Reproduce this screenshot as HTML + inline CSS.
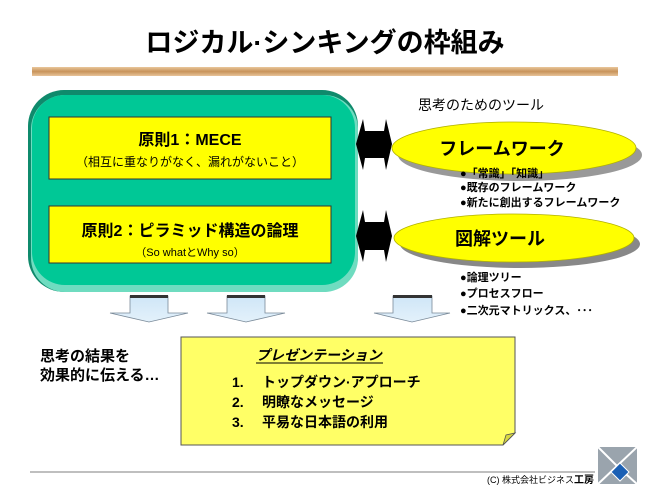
<!DOCTYPE html>
<html><head><meta charset="utf-8"><style>
html,body{margin:0;padding:0;background:#fff;}
svg text{font-family:"Liberation Sans","Noto Sans CJK JP",sans-serif;}
</style></head><body>
<svg width="650" height="488" viewBox="0 0 650 488" xmlns="http://www.w3.org/2000/svg">
<defs>
<linearGradient id="bar" x1="0" y1="0" x2="0" y2="1">
<stop offset="0" stop-color="#e9c79b"/><stop offset="0.5" stop-color="#c8935a"/><stop offset="1" stop-color="#e8c49a"/>
</linearGradient>
<linearGradient id="arr" x1="0" y1="0" x2="0" y2="1">
<stop offset="0" stop-color="#cfe6f7"/><stop offset="1" stop-color="#e3f1fb"/>
</linearGradient>
</defs>
<text x="325" y="52" font-size="27" font-weight="bold" text-anchor="middle" fill="#000">ロジカル·シンキングの枠組み</text>
<rect x="32" y="67" width="586" height="9" fill="url(#bar)"/>

<!-- green box -->
<rect x="28" y="90" width="330" height="202" rx="36" fill="#0f8a6c"/>
<rect x="31" y="95" width="327" height="197" rx="34" fill="#6fdcc0"/>
<rect x="32" y="95" width="323" height="190" rx="33" fill="#00c896"/>
<rect x="49" y="117" width="282" height="62" fill="#ffff00" stroke="#333" stroke-width="1"/>
<text x="190" y="145" font-size="16" font-weight="bold" text-anchor="middle">原則1：MECE</text>
<text x="190" y="166" font-size="12" text-anchor="middle">（相互に重なりがなく、漏れがないこと）</text>
<rect x="49" y="206" width="282" height="57" fill="#ffff00" stroke="#333" stroke-width="1"/>
<text x="190" y="236" font-size="16" font-weight="bold" text-anchor="middle">原則2：ピラミッド構造の論理</text>
<text x="190" y="256" font-size="11" text-anchor="middle">（So whatとWhy so）</text>

<!-- double arrows -->
<polygon points="356,144 363,119 365,131 384,131 386,119 392,144 386,170 384,158 365,158 363,170" fill="#000"/>
<polygon points="356,236 363,210 365,222 384,222 386,210 392,236 386,262 384,250 365,250 363,262" fill="#000"/>

<text x="418" y="110" font-size="14">思考のためのツール</text>
<ellipse cx="520" cy="155" rx="122" ry="26" fill="#999"/>
<ellipse cx="514" cy="148" rx="122" ry="26" fill="#ffff00" stroke="#b0b000" stroke-width="0.8"/>
<text x="502" y="155" font-size="18" text-anchor="middle" font-weight="bold">フレームワーク</text>
<g font-size="11" font-weight="bold">
<text x="460" y="177">●「常識」「知識」</text>
<text x="460" y="191">●既存のフレームワーク</text>
<text x="460" y="206">●新たに創出するフレームワーク</text>
</g>
<ellipse cx="520" cy="244" rx="120" ry="24" fill="#888"/>
<ellipse cx="514" cy="238" rx="120" ry="24" fill="#ffff00" stroke="#b0b000" stroke-width="0.8"/>
<text x="500" y="245" font-size="18" text-anchor="middle" font-weight="bold">図解ツール</text>
<g font-size="11" font-weight="bold">
<text x="460" y="281">●論理ツリー</text>
<text x="460" y="297">●プロセスフロー</text>
<text x="460" y="314">●二次元マトリックス、･･･</text>
</g>

<!-- down arrows -->
<g stroke="#7a8a99" stroke-width="0.8" fill="url(#arr)">
<polygon points="130,296 168,296 168,313 188,313 149,322 110,313 130,313"/>
<polygon points="227,296 265,296 265,313 285,313 246,322 207,313 227,313"/>
<polygon points="393,296 432,296 432,313 450,313 412,322 374,313 393,313"/>
</g>
<g fill="#333"><rect x="130" y="295" width="38" height="3"/><rect x="227" y="295" width="38" height="3"/><rect x="393" y="295" width="39" height="3"/></g>

<text x="40" y="361" font-size="15" font-weight="bold">思考の結果を</text>
<text x="40" y="380" font-size="15" font-weight="bold">効果的に伝える…</text>

<!-- note -->
<polygon points="181,337 515,337 515,433 503,445 181,445" fill="#ffff66" stroke="#555" stroke-width="1"/>
<polygon points="503,445 506,435 515,433" fill="#d8d840" stroke="#555" stroke-width="0.8"/>
<text x="256" y="360" font-size="14" font-weight="bold" font-style="italic">プレゼンテーション</text>
<line x1="256" y1="363" x2="383" y2="363" stroke="#000" stroke-width="1"/>
<g font-size="14" font-weight="bold">
<text x="232" y="387">1.</text><text x="262" y="387">トップダウン·アプローチ</text>
<text x="232" y="407">2.</text><text x="262" y="407">明瞭なメッセージ</text>
<text x="232" y="427">3.</text><text x="262" y="427">平易な日本語の利用</text>
</g>

<line x1="30" y1="472" x2="595" y2="472" stroke="#aaa" stroke-width="1.5"/>
<text x="487" y="483" font-size="9">(C) 株式会社ビジネス<tspan font-weight="bold" font-size="10">工房</tspan></text>
<rect x="598" y="447" width="39" height="37" fill="#9aa4ad"/>
<polyline points="598,447 617,466 637,447" fill="none" stroke="#fff" stroke-width="2"/>
<polyline points="598,484 617,466 637,484" fill="none" stroke="#fff" stroke-width="2"/>
<polygon points="620,463 629,472 620,481 611,472" fill="#1a5fb4" stroke="#fff" stroke-width="1"/>
</svg>
</body></html>
